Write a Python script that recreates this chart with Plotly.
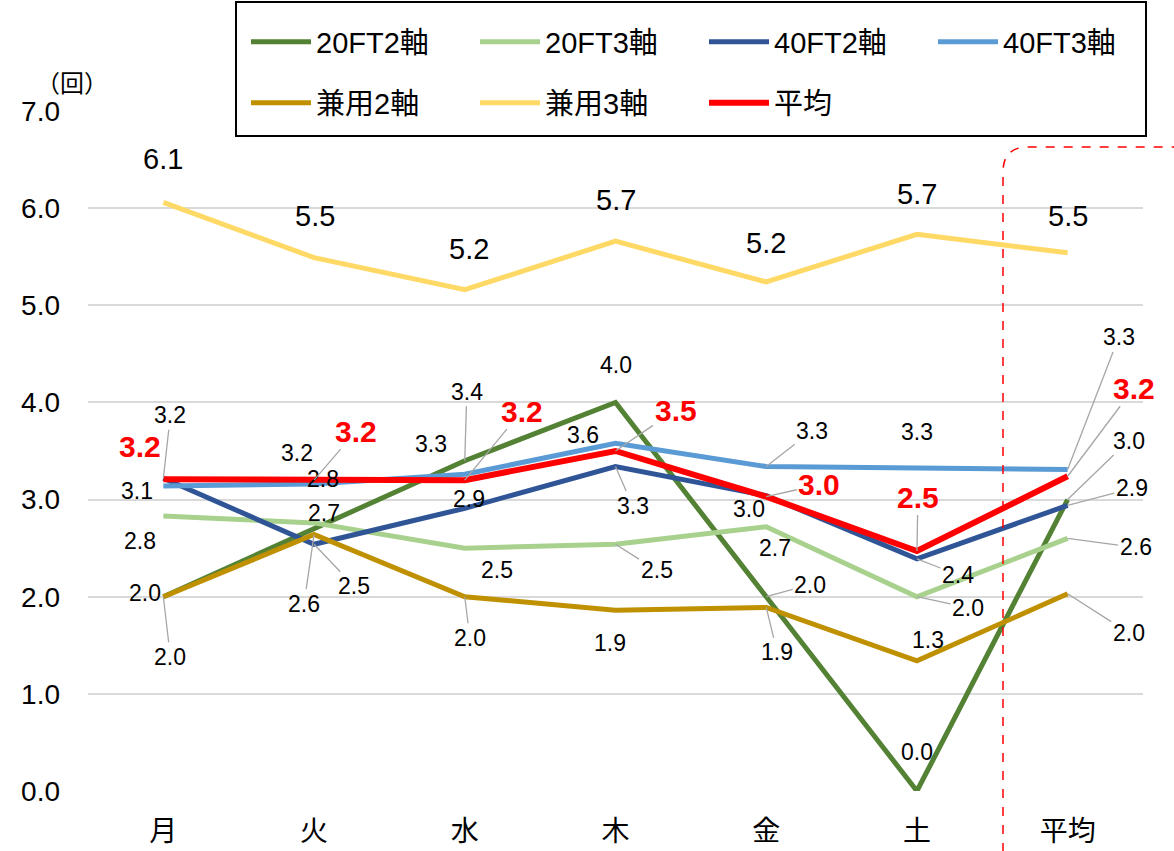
import plotly.graph_objects as go

# ---------------- data ----------------
categories = ["月", "火", "水", "木", "金", "土", "平均"]
series_names = ["20FT2軸", "20FT3軸", "40FT2軸", "40FT3軸", "兼用2軸", "兼用3軸", "平均"]
v_20ft2 = [2.0, 2.7, 3.4, 4.0, 2.0, 0.0, 3.0]
v_20ft3 = [2.83, 2.76, 2.50, 2.54, 2.72, 2.0, 2.6]
v_40ft2 = [3.22, 2.54, 2.91, 3.34, 3.04, 2.39, 2.94]
v_40ft3 = [3.14, 3.16, 3.26, 3.58, 3.34, 3.32, 3.31]
v_ken2 = [2.0, 2.64, 2.0, 1.86, 1.89, 1.34, 2.03]
v_ken3 = [6.06, 5.49, 5.16, 5.66, 5.24, 5.73, 5.54]
v_avg = [3.21, 3.20, 3.20, 3.50, 3.03, 2.47, 3.24]
y_ticks = [0, 1, 2, 3, 4, 5, 6, 7]
unit_label = "（回）"

values = [v_20ft2, v_20ft3, v_40ft2, v_40ft3, v_ken2, v_ken3, v_avg]

# ---------------- styles ----------------
colors = ["#548235", "#A9D18E", "#2F5597", "#5B9BD5", "#BF9000", "#FFD966", "#FF0000"]
widths = [5, 5, 5, 5, 5, 5, 6]
legend_ids = ["legend", "legend", "legend", "legend", "legend2", "legend2", "legend2"]

# label offsets (dx, dy in px, dy positive = down, leader line?)
label_pos = [
    [(-18, -4, 0), (10, -16, 0), (2, -69, 1), (0, -37, 0), (44, -12, 1), (0, -39, 0), (61, -59, 1)],
    [(-23, 25, 0), (9, -44, 0), (32, 22, 0), (41, 26, 1), (9, 21, 0), (51, 11, 1), (68, 9, 1)],
    [(7, -63, 1), (40, 42, 1), (4, -9, 0), (17, 39, 1), (-17, 13, 0), (41, 16, 1), (64, -17, 1)],
    [(-26, 5, 0), (-17, -31, 0), (-34, -30, 0), (-33, -8, 0), (46, -36, 1), (0, -36, 0), (51, -132, 1)],
    [(7, 60, 1), (-10, 69, 1), (5, 41, 1), (-6, 33, 0), (11, 45, 1), (11, -21, 0), (61, 39, 1)],
    [(0, -43, 0), (1, -42, 0), (4, -41, 0), (0, -41, 0), (0, -39, 0), (0, -40, 0), (0, -37, 0)],
    [(-23, -33, 0), (42, -49, 1), (57, -69, 1), (60, -41, 1), (53, -12, 1), (1, -54, 1), (66, -88, 1)],
]

NUM_FONT = "Liberation Sans, Arial, Noto Sans CJK JP"
CJK_FONT = "Noto Sans CJK JP"

W, H = 1174, 851
L, R, T, B = 88, 31, 111, 60
PW, PH = W - L - R, H - T - B


def px(x):
    return (x - L) / PW


def py(y):
    return (H - B - y) / PH


fig = go.Figure()
for name, vals, col, w, lg in zip(series_names, values, colors, widths, legend_ids):
    fig.add_trace(go.Scatter(
        x=categories, y=vals, name=name, mode="lines",
        line=dict(color=col, width=w), legend=lg, hoverinfo="skip",
    ))

annotations = []
for si, (vals, offs) in enumerate(zip(values, label_pos)):
    for cat, v, (dx, dy, lead) in zip(categories, vals, offs):
        if si == 6:
            font = dict(family=NUM_FONT, size=30, color="#FF0000", weight="bold")
        elif si == 5:
            font = dict(family=NUM_FONT, size=29, color="#000000")
        else:
            font = dict(family=NUM_FONT, size=23, color="#000000")
        txt = f"{v:.1f}"
        if si == 6:
            txt = f"<b>{v:.1f}</b>"
        if lead:
            annotations.append(dict(
                x=cat, y=v, xref="x", yref="y", text=txt, font=font,
                showarrow=True, ax=dx, ay=dy, arrowhead=0, arrowwidth=1.3,
                arrowcolor="#A6A6A6", standoff=0, startstandoff=0,
            ))
        else:
            annotations.append(dict(
                x=cat, y=v, xref="x", yref="y", text=txt, font=font,
                showarrow=False, xshift=dx, yshift=-dy,
            ))

annotations.append(dict(
    x=px(72), y=py(82), xref="paper", yref="paper", text=unit_label,
    xanchor="center", yanchor="middle",
    showarrow=False, font=dict(family=CJK_FONT, size=24, color="#000000"),
))

shapes = [
    # legend frame
    dict(type="rect", xref="paper", yref="paper",
         x0=px(236), x1=px(1146), y0=py(136), y1=py(2),
         line=dict(color="#000000", width=2), fillcolor="white", layer="above"),
    # dashed highlight around 平均
    dict(type="path", xref="paper", yref="paper",
         path=(f"M {px(1003)} {py(870)} L {px(1003)} {py(172)} "
               f"Q {px(1003)} {py(147)} {px(1028)} {py(147)} "
               f"L {px(1190)} {py(147)}"),
         line=dict(color="#FF0000", width=1.5, dash="dash"), layer="above"),
]

legend_common = dict(
    orientation="h", xanchor="left", yanchor="middle",
    bgcolor="rgba(0,0,0,0)", borderwidth=0,
    font=dict(family=NUM_FONT, size=29, color="#000000"),
    entrywidth=154, entrywidthmode="pixels", itemwidth=60,
    itemclick=False, itemdoubleclick=False,
)

fig.update_layout(
    width=W, height=H,
    margin=dict(l=L, r=R, t=T, b=B, pad=0, autoexpand=False),
    paper_bgcolor="white", plot_bgcolor="white",
    showlegend=True,
    legend=dict(x=px(246), y=py(42), **legend_common),
    legend2=dict(x=px(246), y=py(103), **legend_common),
    xaxis=dict(
        type="category", range=[-0.5, 6.5], showgrid=False, showline=False,
        zeroline=False, ticks="", automargin=False,
        tickfont=dict(family=CJK_FONT, size=28, color="#000000"),
        ticklabelstandoff=21,
    ),
    yaxis=dict(
        range=[0, 7], tickvals=y_ticks, tickformat=".1f", showgrid=True,
        gridcolor="#D9D9D9", gridwidth=1.5, zeroline=False, showline=False,
        ticks="", automargin=False,
        tickfont=dict(family=NUM_FONT, size=28, color="#000000"),
        ticklabelstandoff=27,
    ),
    annotations=annotations,
    shapes=shapes,
    hovermode=False,
)

fig.write_html("out.html", config={"displayModeBar": False},
               post_script="document.body.style.margin='0';")
